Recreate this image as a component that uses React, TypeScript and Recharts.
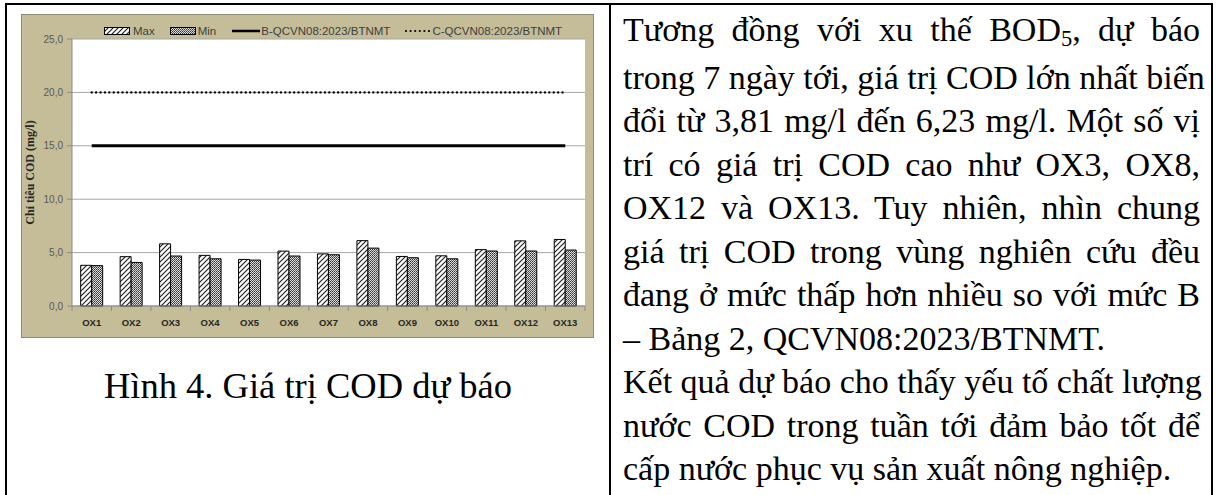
import React from 'react';
import { ComposedChart, Bar, Line, XAxis, YAxis, CartesianGrid } from 'recharts';

const categories = ['OX1', 'OX2', 'OX3', 'OX4', 'OX5', 'OX6', 'OX7', 'OX8', 'OX9', 'OX10', 'OX11', 'OX12', 'OX13'];
const maxValues = [3.81, 4.62, 5.82, 4.74, 4.36, 5.14, 4.88, 6.12, 4.64, 4.7, 5.28, 6.1, 6.23];
const minValues = [3.78, 4.08, 4.68, 4.42, 4.3, 4.68, 4.8, 5.42, 4.52, 4.42, 5.15, 5.15, 5.24];
const limitB = 15;
const limitC = 20;
const yTicks = [0, 5, 10, 15, 20, 25];
const seriesNames = ['Max', 'Min', 'B-QCVN08:2023/BTNMT', 'C-QCVN08:2023/BTNMT'];
const yAxisTitle = 'Chỉ tiêu COD (mg/l)';
const caption = 'Hình 4. Giá trị COD dự báo';

const paragraphLines: { text: React.ReactNode; last?: boolean }[] = [
  { text: <>Tương đồng với xu thế BOD<sub style={{ fontSize: '0.66em', verticalAlign: 'baseline', position: 'relative', top: '0.22em' }}>5</sub>, dự báo</> },
  { text: 'trong 7 ngày tới, giá trị COD lớn nhất biến' },
  { text: 'đổi từ 3,81 mg/l đến 6,23 mg/l. Một số vị' },
  { text: 'trí có giá trị COD cao như OX3, OX8,' },
  { text: 'OX12 và OX13. Tuy nhiên, nhìn chung' },
  { text: 'giá trị COD trong vùng nghiên cứu đều' },
  { text: 'đang ở mức thấp hơn nhiều so với mức B' },
  { text: '– Bảng 2, QCVN08:2023/BTNMT.', last: true },
  { text: 'Kết quả dự báo cho thấy yếu tố chất lượng' },
  { text: 'nước COD trong tuần tới đảm bảo tốt để' },
  { text: 'cấp nước phục vụ sản xuất nông nghiệp.', last: true },
];

const data = categories.map((name, i) => ({
  name,
  max: maxValues[i],
  min: minValues[i],
  b: limitB,
  c: limitC,
}));

const fmt = (v: number) => v.toFixed(1).replace('.', ',');

const TAN = '#c4bd97';
const SANS = '"Liberation Sans", Arial, sans-serif';
const SERIF = '"Liberation Serif", "Times New Roman", serif';

const Patterns = ({ suffix }: { suffix: string }) => (
  <defs>
    <pattern id={`hatchMax${suffix}`} patternUnits="userSpaceOnUse" width="5" height="5">
      <rect width="5" height="5" fill="#fff" />
      <path d="M0,5 L5,0 M-1,1 L1,-1 M4,6 L6,4" stroke="#222" strokeWidth="1.2" />
    </pattern>
    <pattern id={`dotMin${suffix}`} patternUnits="userSpaceOnUse" width="2" height="2">
      <rect width="2" height="2" fill="#dcdcdc" />
      <rect x="0" y="0" width="1" height="1" fill="#333" />
      <rect x="1" y="1" width="1" height="1" fill="#5a5a5a" />
    </pattern>
  </defs>
);

const XTick = (props: any) => {
  const { x, y, payload, index, width, visibleTicksCount } = props;
  const band = width / (visibleTicksCount || categories.length);
  const isLast = index === (visibleTicksCount || categories.length) - 1;
  return (
    <g>
      <line x1={x - band / 2} x2={x - band / 2} y1={y} y2={y + 5} stroke="#8c8c8c" />
      {isLast && <line x1={x + band / 2} x2={x + band / 2} y1={y} y2={y + 5} stroke="#8c8c8c" />}
      <text x={x} y={y + 20} textAnchor="middle" fontFamily={SANS} fontWeight="bold" fontSize={9.5} fill="#262626">
        {payload.value}
      </text>
    </g>
  );
};

const LegendPatch = ({ fill }: { fill: string }) => (
  <svg width={26} height={8} style={{ display: 'block' }}>
    <Patterns suffix="L" />
    <rect x={0.5} y={0.5} width={25} height={7} fill={fill} stroke="#000" />
  </svg>
);

export default function App() {
  return (
    <div style={{ position: 'relative', width: 1216, height: 495, background: '#fff', overflow: 'hidden' }}>
      <style>{`body{margin:0}`}</style>
      {/* table borders */}
      <div style={{ position: 'absolute', left: 5, top: 3, width: 1208, height: 2, background: '#000' }} />
      <div style={{ position: 'absolute', left: 5, top: 3, width: 2, height: 492, background: '#000' }} />
      <div style={{ position: 'absolute', left: 609, top: 3, width: 2, height: 492, background: '#000' }} />
      <div style={{ position: 'absolute', left: 1211, top: 3, width: 2, height: 492, background: '#000' }} />

      {/* chart box */}
      <div style={{ position: 'absolute', left: 21, top: 14, width: 571, height: 322, border: '1px solid #8e8a76', background: TAN }}>
        <ComposedChart
          width={571}
          height={322}
          data={data}
          margin={{ top: 24, right: 8, left: 0, bottom: 0 }}
          barGap={0}
          barCategoryGap="22%"
        >
          <Patterns suffix="" />
          <CartesianGrid vertical={false} fill="#fff" stroke="#a6a6a6" strokeWidth={1} />
          <XAxis
            dataKey="name"
            height={31}
            tickLine={false}
            tickSize={0}
            tickMargin={0}
            axisLine={{ stroke: '#8c8c8c' }}
            interval={0}
            tick={<XTick />}
          />
          <YAxis
            width={50}
            domain={[0, 25]}
            ticks={yTicks}
            tickFormatter={fmt}
            tickSize={5}
            tickMargin={4}
            axisLine={{ stroke: '#8c8c8c' }}
            tickLine={{ stroke: '#8c8c8c' }}
            tick={{ fontFamily: SANS, fontSize: 10, fill: '#595959' }}
            label={{
              value: yAxisTitle,
              angle: -90,
              position: 'center',
              dx: -17,
              style: { fontFamily: SERIF, fontWeight: 'bold', fontSize: 12, fill: '#262626' },
            }}
          />
          <Bar dataKey="max" name={seriesNames[0]} fill="url(#hatchMax)" stroke="#000" strokeWidth={1} isAnimationActive={false} />
          <Bar dataKey="min" name={seriesNames[1]} fill="url(#dotMin)" stroke="#000" strokeWidth={1} isAnimationActive={false} />
          <Line dataKey="b" name={seriesNames[2]} stroke="#000" strokeWidth={3} dot={false} isAnimationActive={false} />
          <Line
            dataKey="c"
            name={seriesNames[3]}
            stroke="#000"
            strokeWidth={2.4}
            strokeDasharray="0 4.4"
            strokeLinecap="round"
            dot={false}
            isAnimationActive={false}
          />
        </ComposedChart>
      </div>

      {/* legend */}
      <div style={{ position: 'absolute', left: 104, top: 27, display: 'flex', alignItems: 'center', fontFamily: SANS, fontSize: 11.5, color: '#404040', whiteSpace: 'nowrap', lineHeight: '8px' }}>
        <LegendPatch fill="url(#hatchMaxL)" />
        <span style={{ marginLeft: 3 }}>{seriesNames[0]}</span>
        <span style={{ marginLeft: 15 }}><LegendPatch fill="url(#dotMinL)" /></span>
        <span style={{ marginLeft: 2 }}>{seriesNames[1]}</span>
        <svg width={28} height={8} style={{ marginLeft: 16, display: 'block' }}>
          <line x1={0} x2={28} y1={4} y2={4} stroke="#000" strokeWidth={2.5} />
        </svg>
        <span style={{ marginLeft: 1 }}>{seriesNames[2]}</span>
        <svg width={26} height={8} style={{ marginLeft: 14, display: 'block' }}>
          <line x1={2} x2={26} y1={4} y2={4} stroke="#000" strokeWidth={2.2} strokeDasharray="0 4.6" strokeLinecap="round" />
        </svg>
        <span style={{ marginLeft: 2 }}>{seriesNames[3]}</span>
      </div>

      {/* caption */}
      <div style={{ position: 'absolute', left: 7, width: 602, top: 364, textAlign: 'center', fontFamily: SERIF, fontSize: 36.5, lineHeight: '44px', color: '#000' }}>
        {caption}
      </div>

      {/* paragraph */}
      <div style={{ position: 'absolute', left: 623, top: 8, width: 577, fontFamily: SERIF, fontSize: 34, lineHeight: '43.5px', color: '#000' }}>
        {paragraphLines.map((l, i) => (
          <div key={i} style={{ textAlign: l.last ? 'left' : 'justify', textAlignLast: l.last ? 'left' : 'justify', whiteSpace: 'nowrap' }}>
            {l.text}
          </div>
        ))}
      </div>
    </div>
  );
}
